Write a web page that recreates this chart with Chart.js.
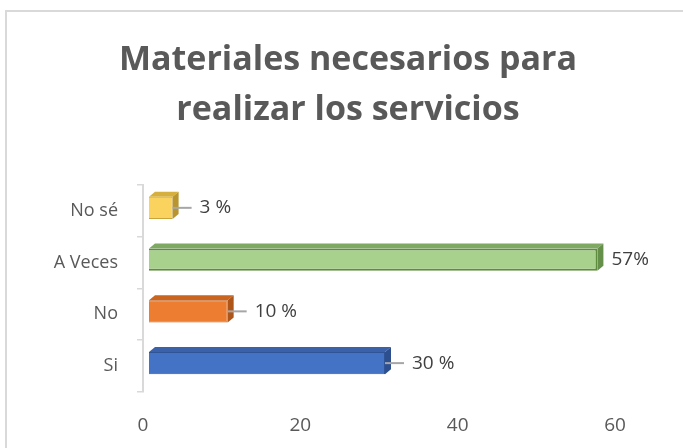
<!DOCTYPE html>
<html>
<head>
<meta charset="utf-8">
<script src="https://cdn.jsdelivr.net/npm/chart.js@4.4.0/dist/chart.umd.min.js"></script>
<style>
  html, body { margin: 0; padding: 0; background: #fff; }
  #wrap { position: relative; width: 683px; height: 448px; overflow: hidden; }
  #frame { position: absolute; left: 5px; top: 10px; width: 720px; height: 480px; border: 2px solid #d9d9d9; }
  canvas { position: absolute; left: 0; top: 0; }
</style>
</head>
<body>
<div id="wrap">
  <div id="frame"></div>
  <canvas id="chart" width="683" height="448"></canvas>
</div>
<script>
/**
 * Data
 */
const categories = ['No sé', 'A Veces', 'No', 'Si'];
const values = [3, 57, 10, 30];
const valueLabels = ['3 %', '57%', '10 %', '30 %'];
const xTicks = [0, 20, 40, 60];

/**
 * Styles
 */
const frontColors = ['#FAD35E', '#A9D18E', '#ED7D31', '#4472C4'];
const topColors = ['#D6B03E', '#7FA862', '#C9651F', '#3A61A9'];
const sideColors = ['#B8952E', '#64904A', '#AE561A', '#2E4F8E'];
const edgeColors = ['#C9A43A', '#5E8C3E', '#C0601E', '#2F5597'];
const edgeWidths = [1, 2, 1, 1];
const hasLeader = [true, false, true, true];

const DEPTH_X = 6, DEPTH_Y = 5;   // 3d faces
const SHIFT_X = 6, SHIFT_Y = -3;  // floor offset of the 3d plot
const FONT = "'Open Sans', sans-serif";

/**
 * Plugins
 */
const bar3d = {
  id: 'bar3d',
  beforeDatasetsDraw(chart) {
    chart.ctx.save();
    chart.ctx.translate(SHIFT_X, SHIFT_Y);
  },
  afterDatasetsDraw(chart) {
    const ctx = chart.ctx;
    chart.getDatasetMeta(0).data.forEach((bar, i) => {
      const { x, y, base, height } = bar.getProps(['x', 'y', 'base', 'height'], true);
      const top = y - height / 2;
      const bottom = y + height / 2;
      // top face
      ctx.fillStyle = topColors[i];
      ctx.beginPath();
      ctx.moveTo(base, top);
      ctx.lineTo(x, top);
      ctx.lineTo(x + DEPTH_X, top - DEPTH_Y);
      ctx.lineTo(base + DEPTH_X, top - DEPTH_Y);
      ctx.closePath();
      ctx.fill();
      // right face
      ctx.fillStyle = sideColors[i];
      ctx.beginPath();
      ctx.moveTo(x, top);
      ctx.lineTo(x + DEPTH_X, top - DEPTH_Y);
      ctx.lineTo(x + DEPTH_X, bottom - DEPTH_Y);
      ctx.lineTo(x, bottom);
      ctx.closePath();
      ctx.fill();
    });
    ctx.restore();
  }
};

const valueLabelsPlugin = {
  id: 'valueLabels',
  afterDraw(chart) {
    const ctx = chart.ctx;
    ctx.save();
    ctx.font = '19px ' + FONT;
    ctx.fillStyle = '#404040';
    ctx.textBaseline = 'middle';
    ctx.textAlign = 'left';
    chart.getDatasetMeta(0).data.forEach((bar, i) => {
      const { x, y } = bar.getProps(['x', 'y'], true);
      const ex = x + SHIFT_X;
      const ey = y + SHIFT_Y;
      if (hasLeader[i]) {
        ctx.strokeStyle = '#A6A6A6';
        ctx.lineWidth = 2;
        ctx.beginPath();
        ctx.moveTo(ex, ey);
        ctx.lineTo(ex + 19, ey);
        ctx.stroke();
        ctx.fillText(valueLabels[i], ex + 27, ey);
      } else {
        ctx.fillText(valueLabels[i], ex + DEPTH_X + 8, ey);
      }
    });
    ctx.restore();
  }
};

/**
 * Chart
 */
const createGraphic = () => {
  const ctx = document.getElementById('chart').getContext('2d');

  new Chart(ctx, {
    type: 'bar',
    data: {
      labels: categories,
      datasets: [{
        data: values,
        backgroundColor: frontColors,
        borderColor: edgeColors,
        borderWidth: edgeWidths,
        categoryPercentage: 1,
        barPercentage: 0.43
      }]
    },
    plugins: [bar3d, valueLabelsPlugin],
    options: {
      indexAxis: 'y',
      responsive: false,
      animation: false,
      layout: { padding: { left: 13, right: 0, top: 0, bottom: 0 } },
      plugins: {
        legend: { display: false },
        tooltip: { enabled: false },
        title: {
          display: true,
          text: ['Materiales necesarios para', 'realizar los servicios'],
          color: '#595959',
          font: { family: FONT, size: 34, weight: 'bold', lineHeight: 1.47 },
          padding: { top: 35, bottom: 50 }
        }
      },
      scales: {
        x: {
          min: xTicks[0],
          max: xTicks[xTicks.length - 1],
          afterFit: (scale) => { scale.height = 56; },
          afterBuildTicks: (scale) => { scale.ticks = xTicks.map(v => ({ value: v })); },
          grid: { display: false },
          border: { display: false },
          ticks: { color: '#595959', font: { family: FONT, size: 19 }, padding: 14 }
        },
        y: {
          afterFit: (scale) => { scale.width = 130; },
          grid: {
            display: true,
            drawOnChartArea: false,
            drawTicks: true,
            tickLength: 6,
            color: '#D9D9D9',
            lineWidth: 1.5
          },
          border: { display: true, color: '#D9D9D9', width: 2 },
          ticks: { color: '#595959', font: { family: FONT, size: 18 }, padding: 19 }
        },
        // empty space on the right of the plot, where the 57% label sits
        yRight: {
          type: 'category',
          position: 'right',
          afterFit: (scale) => { scale.width = 68; },
          grid: { display: false },
          border: { display: false },
          ticks: { display: false }
        }
      }
    }
  });
};

/**
 * Events
 */
document.addEventListener('DOMContentLoaded', () => {
  createGraphic();
});
</script>
</body>
</html>
